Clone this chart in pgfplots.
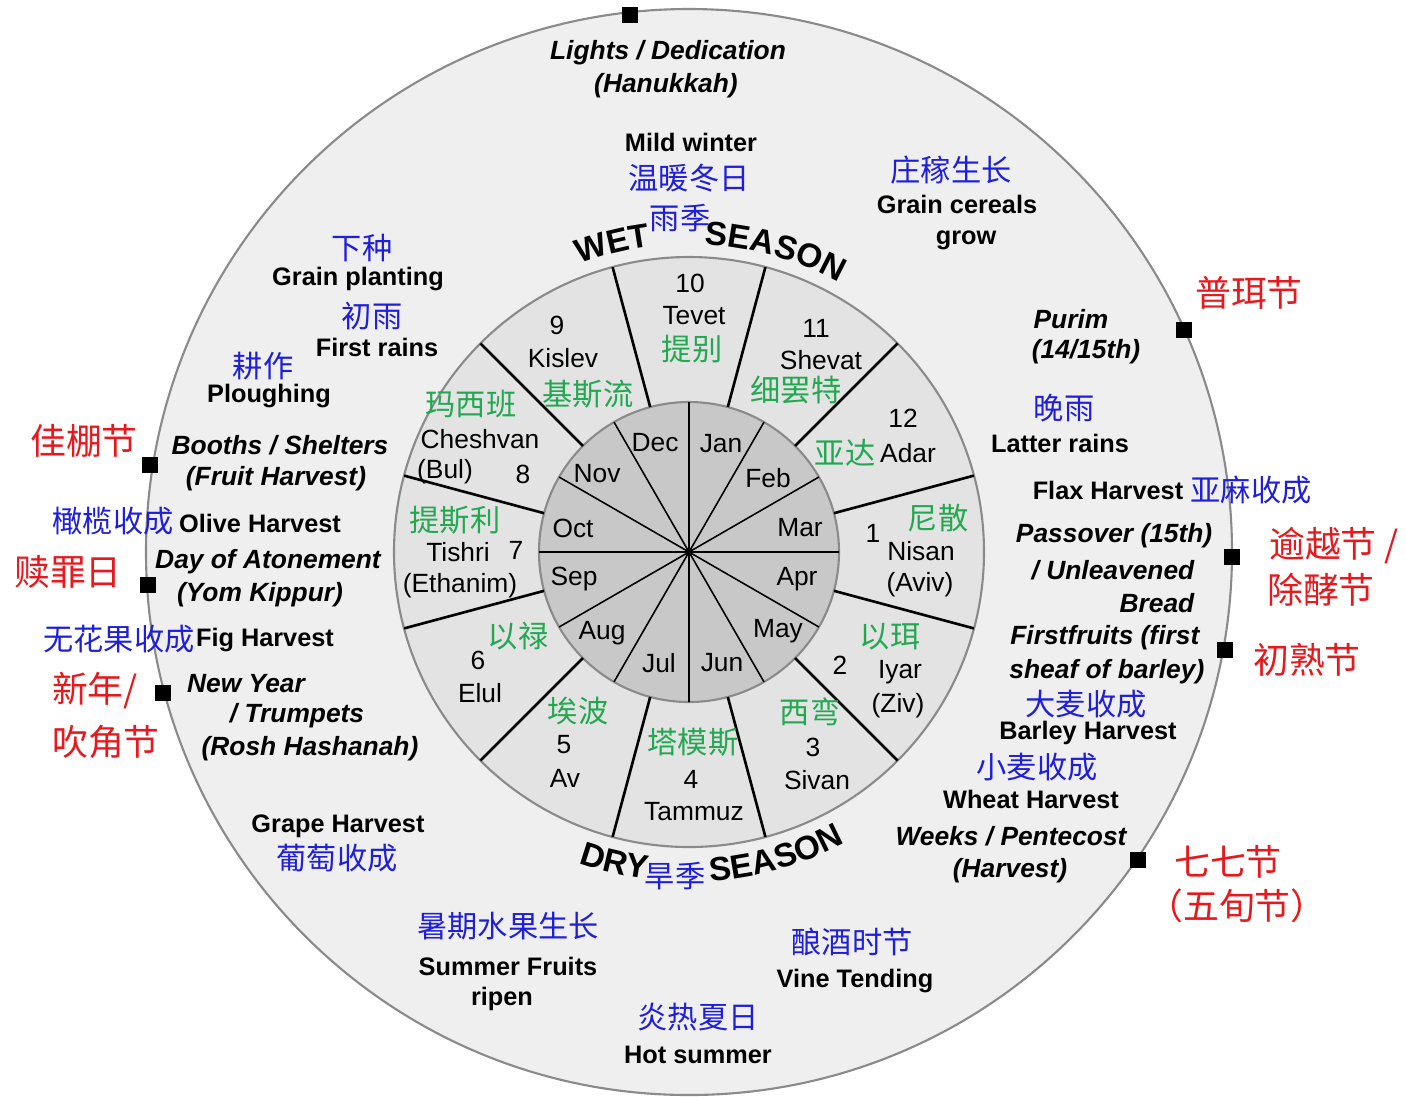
\documentclass[border=0pt]{standalone}
\usepackage{fontspec}
\setmainfont{Liberation Sans}
\newfontfamily\cjk{Noto Sans CJK SC}
\usepackage{pgfplots}
\pgfplotsset{compat=1.18}
\usetikzlibrary{decorations.text}

\definecolor{zhblue}{HTML}{1E1EDC}
\definecolor{zhgreen}{HTML}{22A850}
\definecolor{zhred}{HTML}{E6191E}
\definecolor{discfill}{HTML}{EFEFEF}
\definecolor{ringfill}{HTML}{E3E3E3}
\definecolor{corefill}{HTML}{C8C8C8}
\definecolor{rimgray}{HTML}{8A8A8A}

\newcommand\en{\fontsize{7.2}{9}\selectfont\bfseries}
\newcommand\eni{\fontsize{7.5}{9}\selectfont\bfseries\itshape}
\newcommand\mo{\fontsize{7.5}{9}\selectfont}
\newcommand\zh{\cjk\fontsize{8.6}{10}\selectfont}
\newcommand\zhr{\cjk\fontsize{10.2}{12}\selectfont}
\newcommand\season{\fontsize{9.5}{11}\selectfont\bfseries}

\tikzset{
  E/.style={font=\en},
  EI/.style={font=\eni},
  M/.style={font=\mo},
  B/.style={font=\zh,text=zhblue},
  G/.style={font=\zh,text=zhgreen},
  R/.style={font=\zhr,text=zhred},
}
\newcommand\lab[4][]{\node[inner sep=0pt,#1] at (axis cs:#2,#3) {#4};}

\begin{document}
\begin{tikzpicture}
\begin{axis}[
  width=14.06cm, height=10.96cm, scale only axis,
  hide axis, clip=false,
  xmin=0, xmax=1406, ymin=0, ymax=1096, y dir=reverse,
]
% discs
\filldraw[fill=discfill,draw=rimgray,line width=0.6pt] (axis cs:689,552) circle[radius=5.43cm];
\filldraw[fill=ringfill,draw=rimgray,line width=0.6pt] (axis cs:689,552) circle[radius=2.95cm];
\filldraw[fill=corefill,draw=rimgray,line width=0.6pt] (axis cs:689,552) circle[radius=1.50cm];

% Gregorian month spokes
\addplot[black, line width=0.45pt, unbounded coords=jump] coordinates {
  (839,552) (539,552) (nan,nan)
  (818.9,477) (559.1,627) (nan,nan)
  (764,422.1) (614,681.9) (nan,nan)
  (689,402) (689,702) (nan,nan)
  (614,422.1) (764,681.9) (nan,nan)
  (559.1,477) (818.9,627)
};
% Hebrew month spokes
\addplot[black, line width=0.75pt, unbounded coords=jump] coordinates {
  (833.9,513.2) (973.9,475.6) (nan,nan)
  (795.1,445.9) (897.6,343.4) (nan,nan)
  (727.8,407.1) (765.4,267.1) (nan,nan)
  (650.2,407.1) (612.6,267.1) (nan,nan)
  (582.9,445.9) (480.4,343.4) (nan,nan)
  (544.1,513.2) (404.1,475.6) (nan,nan)
  (544.1,590.8) (404.1,628.4) (nan,nan)
  (582.9,658.1) (480.4,760.6) (nan,nan)
  (650.2,696.9) (612.6,836.9) (nan,nan)
  (727.8,696.9) (765.4,836.9) (nan,nan)
  (795.1,658.1) (897.6,760.6) (nan,nan)
  (833.9,590.8) (973.9,628.4)
};
% feast markers on the rim
\addplot[only marks, mark=square*, mark size=2pt, black] coordinates {
  (630,15) (1184,330) (1232,557) (1225,650) (1138,860)
  (150,465) (148,585) (163,693)
};

% season labels along the ring
\path[decorate,decoration={text along path,text={|\season|WET},text align=center}]
  ([shift={(axis cs:689,552)}]114:3.08cm) arc[start angle=114,end angle=94,radius=3.08cm];
\path[decorate,decoration={text along path,text={|\season|SEASON},text align=center}]
  ([shift={(axis cs:689,552)}]90:3.08cm) arc[start angle=90,end angle=58,radius=3.08cm];
\path[decorate,decoration={text along path,text={|\season|DRY},text align=center}]
  ([shift={(axis cs:689,552)}]246:3.30cm) arc[start angle=246,end angle=267,radius=3.30cm];
\path[decorate,decoration={text along path,text={|\season|SEASON},text align=center}]
  ([shift={(axis cs:689,552)}]270:3.30cm) arc[start angle=270,end angle=302,radius=3.30cm];
\lab[B]{680}{218}{雨季}
\lab[B]{675}{876}{旱季}

% top
\lab[EI]{668}{53}{Lights / Dedication}
\lab[EI]{666}{86}{(Hanukkah)}
\lab[E]{691}{142}{Mild winter}
\lab[B]{689}{178}{温暖冬日}

% upper left
\lab[B]{362}{248}{下种}
\lab[E]{358}{279}{Grain planting}
\lab[B]{372}{316}{初雨}
\lab[E]{377}{347}{First rains}
\lab[B]{263}{366}{耕作}
\lab[E]{269}{396}{Ploughing}
\lab[R]{84}{441}{佳棚节}
\lab[EI]{280}{445}{Booths / Shelters}
\lab[EI]{276}{479}{(Fruit Harvest)}
\lab[B]{113}{521}{橄榄收成}
\lab[E]{260}{523}{Olive Harvest}
\lab[R]{68}{572}{赎罪日}
\lab[EI]{268}{562}{Day of Atonement}
\lab[EI]{260}{595}{(Yom Kippur)}
\lab[B]{119}{639}{无花果收成}
\lab[E]{265}{640}{Fig Harvest}
\lab[R]{95}{691}{新年/}
\lab[R]{106}{742}{吹角节}
\lab[EI]{246}{684}{New Year}
\lab[EI]{297}{716}{/ Trumpets}
\lab[EI]{310}{749}{(Rosh Hashanah)}

% right
\lab[B]{951}{170}{庄稼生长}
\lab[E]{957}{204}{Grain cereals}
\lab[E]{966}{240}{grow}
\lab[R]{1249}{293}{普珥节}
\lab[EI]{1071}{319}{Purim}
\lab[EI]{1086}{352}{(14/15th)}
\lab[B]{1064}{408}{晚雨}
\lab[E]{1060}{443}{Latter rains}
\lab[E]{1108}{490}{Flax Harvest}
\lab[B]{1251}{490}{亚麻收成}
\lab[EI,anchor=east]{1213}{536}{Passover (15th)}
\lab[EI,anchor=east]{1195}{570}{/ Unleavened}
\lab[EI,anchor=east]{1195}{603}{Bread}
\lab[R]{1334}{546}{逾越节 /}
\lab[R]{1321}{590}{除酵节}
\lab[EI,anchor=east]{1200}{638}{Firstfruits (first}
\lab[EI,anchor=east]{1205}{672}{sheaf of barley)}
\lab[R]{1307}{660}{初熟节}
\lab[B]{1086}{704}{大麦收成}
\lab[E]{1088}{733}{Barley Harvest}
\lab[B]{1037}{767}{小麦收成}
\lab[E]{1031}{799}{Wheat Harvest}
\lab[EI]{1011}{836}{Weeks / Pentecost}
\lab[EI]{1010}{871}{(Harvest)}
\lab[R]{1228}{862}{七七节}
\lab[R]{1237}{906}{（五旬节）}

% bottom
\lab[E]{338}{826}{Grape Harvest}
\lab[B]{337}{858}{葡萄收成}
\lab[B]{508}{926}{暑期水果生长}
\lab[E]{508}{966}{Summer Fruits}
\lab[E]{502}{999}{ripen}
\lab[B]{852}{942}{酿酒时节}
\lab[E]{855}{981}{Vine Tending}
\lab[B]{698}{1017}{炎热夏日}
\lab[E]{698}{1055}{Hot summer}

% Hebrew months
\lab[M]{690}{283}{10}
\lab[M]{694}{316}{Tevet}
\lab[G]{692}{349}{提别}
\lab[M]{557}{325}{9}
\lab[M]{563}{358}{Kislev}
\lab[G]{588}{394}{基斯流}
\lab[G]{471}{404}{玛西班}
\lab[M]{480}{439}{Cheshvan}
\lab[M]{445}{472}{(Bul)}
\lab[M]{523}{474}{8}
\lab[G]{455}{520}{提斯利}
\lab[M]{458}{552}{Tishri}
\lab[M]{516}{550}{7}
\lab[M]{460}{586}{(Ethanim)}
\lab[G]{518}{636}{以禄}
\lab[M]{478}{660}{6}
\lab[M]{480}{693}{Elul}
\lab[G]{578}{711}{埃波}
\lab[M]{564}{745}{5}
\lab[M]{565}{778}{Av}
\lab[G]{693}{742}{塔模斯}
\lab[M]{691}{779}{4}
\lab[M]{694}{812}{Tammuz}
\lab[G]{810}{712}{西弯}
\lab[M]{813}{747}{3}
\lab[M]{817}{780}{Sivan}
\lab[G]{890}{637}{以珥}
\lab[M]{840}{665}{2}
\lab[M]{900}{672}{Iyar}
\lab[M]{898}{706}{(Ziv)}
\lab[M]{873}{533}{1}
\lab[G]{938}{518}{尼散}
\lab[M]{921}{551}{Nisan}
\lab[M]{920}{585}{(Aviv)}
\lab[M]{903}{418}{12}
\lab[G]{845}{453}{亚达}
\lab[M]{908}{453}{Adar}
\lab[M]{816}{328}{11}
\lab[M]{821}{360}{Shevat}
\lab[G]{796}{390}{细罢特}

% Gregorian months
\lab[M]{721}{444}{Jan}
\lab[M]{768}{478}{Feb}
\lab[M]{800}{528}{Mar}
\lab[M]{797}{579}{Apr}
\lab[M]{778}{631}{May}
\lab[M]{722}{663}{Jun}
\lab[M]{659}{663}{Jul}
\lab[M]{602}{633}{Aug}
\lab[M]{574}{579}{Sep}
\lab[M]{573}{528}{Oct}
\lab[M]{597}{474}{Nov}
\lab[M]{655}{443}{Dec}
\end{axis}
\pgfresetboundingbox
\path (current axis.south west) rectangle (current axis.north east);
\end{tikzpicture}
\end{document}
